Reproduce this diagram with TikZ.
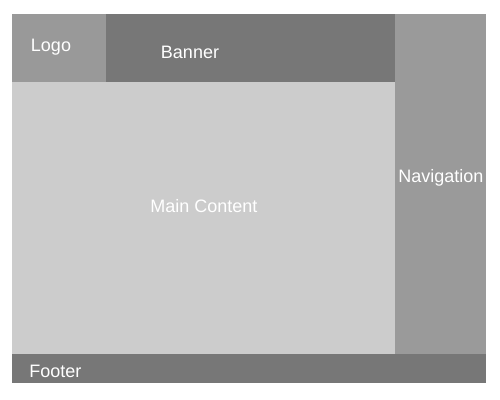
\documentclass[tikz,border=0pt]{standalone}
\usepackage{fontspec}
\setmainfont{Liberation Sans}
\usepackage{xcolor}
\usetikzlibrary{positioning}
\definecolor{LogoGrey}{HTML}{999999}
\definecolor{BannerGrey}{HTML}{777777}
\definecolor{MainGrey}{HTML}{CCCCCC}
\definecolor{NavGrey}{HTML}{9A9A9A}
\definecolor{FooterGrey}{HTML}{777777}

\begin{document}
\begin{tikzpicture}[x=0.5pt, y=-0.5pt]
    \tikzstyle{region}=[rectangle, inner sep=0pt, outer sep=0pt, anchor=north west]
    \tikzstyle{region-text}=[text=white, inner sep=0pt, font=\fontsize{9}{10}\selectfont]

    \useasboundingbox (0,0) rectangle (500,400);

    \node[region, fill=LogoGrey, minimum width=47pt, minimum height=34pt] (logo) at (12,14) {};
    \node[region, fill=BannerGrey, minimum width=144.5pt, minimum height=34pt] (banner) at (logo.north east) {};
    \node[region, fill=MainGrey, minimum width=191.5pt, minimum height=136pt] (main-content) at (logo.south west) {};
    \node[region, fill=NavGrey, minimum width=45.5pt, minimum height=170pt] (navigation) at (banner.north east) {};
    \node[region, fill=FooterGrey, minimum width=237pt, minimum height=14.5pt] (footer) at (main-content.south west) {};

    \node[region-text] (logo-text) at (51,47) {Logo};
    \node[region-text] (banner-text) at (190,52) {Banner};
    \node[region-text] (main-content-text) at (204,206) {Main Content};
    \node[region-text] (navigation-text) at (441,178) {Navigation};
    \node[region-text, anchor=west] (footer-text) at (29,371) {Footer};
\end{tikzpicture}
\end{document}
